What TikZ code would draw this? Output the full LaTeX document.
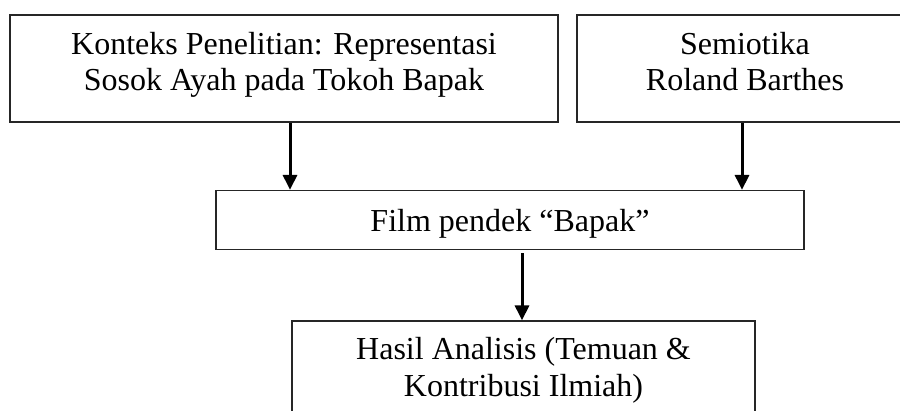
\documentclass[tikz,border=0pt]{standalone}
\usepackage{fontspec}
\setmainfont{Liberation Serif}
\usetikzlibrary{arrows.meta}
\begin{document}
\begin{tikzpicture}[x=1pt,y=-1pt,
  box/.style={draw=black!85, line width=1.2pt, inner sep=0pt},
  lbl/.style={font=\fontsize{32}{37}\selectfont, anchor=base, inner sep=0pt},
  conn/.style={line width=3pt, -{Triangle[length=15pt,width=14pt]}}]
\useasboundingbox (0,0) rectangle (900,411);
\clip (0,0) rectangle (900,411);
% boxes
\node[box, minimum width=548pt, minimum height=107pt] (b1) at (284,68.5) {};
\node[box, minimum width=336pt, minimum height=107pt] (b2) at (745,68.5) {};
\node[box, minimum width=588pt, minimum height=59pt] (b3) at (510,220) {};
\node[box, minimum width=463pt, minimum height=107pt] (b4) at (523.5,374.5) {};
% texts
\node[lbl] (t1a) at (284,55) {Konteks Penelitian: Representasi};
\node[lbl] (t1b) at (284,91) {Sosok Ayah pada Tokoh Bapak};
\node[lbl] (t2a) at (745,55) {Semiotika};
\node[lbl] (t2b) at (745,91) {Roland Barthes};
\node[lbl] (t3) at (510,232) {Film pendek “Bapak”};
\node[lbl] (t4a) at (523.5,360) {Hasil Analisis (Temuan \&};
\node[lbl] (t4b) at (523.5,397) {Kontribusi Ilmiah)};
% connectors
\coordinate (x1) at (290,0);
\coordinate (x2) at (742,0);
\coordinate (x3) at (522,0);
\draw[conn] (b1.south -| x1) -- (b3.north -| x1);
\draw[conn] (b2.south -| x2) -- (b3.north -| x2);
\draw[conn] ([yshift=-3pt]b3.south -| x3) -- (b4.north -| x3);
\end{tikzpicture}
\end{document}
